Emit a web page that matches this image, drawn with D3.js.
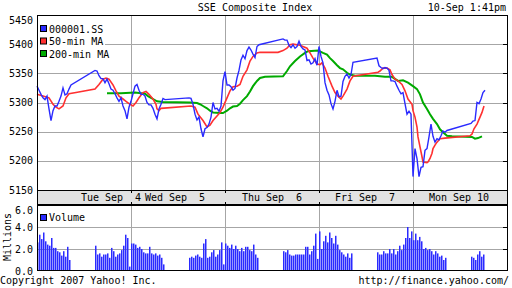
<!DOCTYPE html>
<html>
<head>
<meta charset="utf-8">
<script src="https://cdn.jsdelivr.net/npm/d3@7"></script>
<style>
  body { margin: 0; background: #fff; }
  svg { display: block; font-family: "DejaVu Sans Mono", monospace; font-size: 10px; }
  text { white-space: pre; }
</style>
</head>
<body>
<svg width="512" height="288"></svg>
<script>
// 5 sessions, 47 slots of ~5 min each; morning slots 0-17, afternoon slots from 29
const days = ["Tue Sep  4", "Wed Sep  5", "Thu Sep  6", "Fri Sep  7", "Mon Sep 10"];
const labelSlots = [37, 69, 117.5, 164, 211];
const slotsPerDay = 47;
const pmStart = 29;

const priceAM = [
  [5328, 5321, 5314, 5308, 5305, 5311, 5289, 5269, 5286, 5294, 5294, 5302, 5311, 5325, 5313, 5315, 5323, 5330],
  [5302, 5315, 5328, 5331, 5321, 5314, 5314, 5311, 5300, 5296, 5296, 5290, 5280, 5272, 5289, 5297, 5307, 5305],
  [5353, 5330, 5330, 5327, 5321, 5324, 5342, 5355, 5373, 5381, 5375, 5389, 5395, 5390, 5383, 5377, 5396, 5399],
  [5396, 5379, 5368, 5334, 5321, 5313, 5298, 5289, 5302, 5321, 5310, 5311, 5336, 5345, 5349, 5342, 5348, 5369],
  [5173, 5221, 5204, 5173, 5189, 5190, 5218, 5221, 5241, 5263, 5242, 5232, 5238, 5236, 5243, 5251, 5249, 5252]
];
const pricePM = [
  [5355, 5354, 5346, 5341, 5341, 5334, 5340, 5332, 5323, 5321, 5315, 5308, 5302, 5308, 5294, 5286, 5272, 5292],
  [5308, 5307, 5297, 5280, 5270, 5275, 5255, 5241, 5255, 5257, 5263, 5275, 5300, 5289, 5290, 5285, 5294, 5337],
  [5409, 5407, 5407, 5398, 5394, 5399, 5393, 5396, 5405, 5396, 5392, 5390, 5372, 5373, 5366, 5368, 5375, 5364],
  [5376, 5363, 5360, 5358, 5360, 5359, 5355, 5337, 5337, 5336, 5328, 5321, 5315, 5317, 5298, 5280, 5285, 5280],
  [5264, 5268, 5269, 5300, 5298, 5306, 5317, 5321]
];

// moving averages as [slot, value]
const ma50 = [
  [0, 5314], [3, 5311], [6, 5308], [8, 5297], [9.5, 5292], [11, 5289], [13, 5294], [14.5, 5308], [16, 5315],
  [19.5, 5317], [29, 5323], [31, 5331], [33, 5340], [34.5, 5342], [36, 5340], [38, 5330], [39.5, 5320],
  [41, 5311], [43, 5306], [44.5, 5302], [46, 5298], [48, 5294], [49.5, 5300], [51, 5308], [53, 5317],
  [54.5, 5319], [56, 5314], [58, 5306], [59.5, 5297], [60, 5289], [61, 5286], [62, 5290], [77, 5294],
  [79, 5292], [80.5, 5280], [83, 5269], [85, 5258], [86.5, 5261], [88, 5269], [90, 5277], [91.5, 5283],
  [93, 5292], [95, 5308], [96.5, 5320], [98, 5327], [100, 5328], [101.5, 5331], [103, 5345], [105, 5356],
  [106.5, 5371], [108, 5379], [110, 5385], [111.5, 5386], [120.5, 5386], [123, 5389], [125, 5393],
  [126.5, 5399], [128, 5400], [131.5, 5398], [135, 5393], [136.5, 5385], [138, 5376], [140, 5366],
  [141.5, 5365], [142.5, 5368], [144, 5359], [145.5, 5345], [147.5, 5328], [149, 5317], [150.5, 5311],
  [152, 5306], [153, 5311], [155, 5323], [156.5, 5337], [158, 5345], [170.5, 5352], [171.5, 5354],
  [173, 5359], [175, 5359], [176.5, 5356], [177.5, 5348], [179, 5340], [180.5, 5337], [182.5, 5331],
  [184, 5320], [185.5, 5306], [187.5, 5297], [188, 5286], [189, 5275], [190, 5258], [190.5, 5241],
  [191.5, 5224], [192.5, 5207], [193, 5198], [195, 5197], [195.5, 5198], [196.5, 5204], [197.5, 5213],
  [198, 5221], [199, 5227], [200, 5232], [201.5, 5238], [204, 5239], [216.5, 5243], [217.5, 5246],
  [218.5, 5255], [220, 5263], [221.5, 5275], [222.5, 5283], [223.5, 5294]
];
const ma200 = [
  [35, 5316], [42, 5316], [49, 5317], [52, 5316], [54, 5315], [55.5, 5311], [57, 5308], [58, 5306],
  [60, 5302], [63, 5301], [76.5, 5300], [80, 5299], [81.5, 5297], [83, 5294], [85, 5290], [86.5, 5286],
  [88, 5283], [91.5, 5282], [93, 5282], [95, 5286], [96.5, 5290], [98, 5293], [100, 5294], [101.5, 5298],
  [103, 5304], [105, 5311], [106.5, 5319], [108, 5328], [110, 5337], [111.5, 5342], [114, 5344],
  [123, 5345], [125, 5354], [126.5, 5362], [129, 5371], [131.5, 5379], [134, 5385], [135.5, 5388],
  [140.5, 5389], [143, 5385], [145, 5382], [146.5, 5376], [148, 5371], [150, 5364], [151.5, 5359],
  [153, 5357], [155, 5351], [156.5, 5348], [159, 5346], [169, 5346], [174, 5344], [177.5, 5344],
  [180.5, 5337], [183, 5338], [185.5, 5334], [188, 5328], [190, 5323], [191.5, 5314], [193, 5300],
  [195, 5289], [196.5, 5280], [198, 5272], [200, 5263], [201.5, 5254], [203, 5249], [205, 5243],
  [207.5, 5242], [217.5, 5241], [219, 5238], [220.5, 5239], [222.5, 5242]
];

// volume in millions
const volAM = [
  [2.6, 3.3, 2.9, 3.5, 2.7, 2.4, 2.3, 3.0, 2.1, 2.1, 1.8, 1.7, 1.4, 1.8, 1.3, 2.2, 1.0],
  [2.5, 2.5, 2.4, 2.1, 2.2, 2.0, 1.7, 1.6, 1.6, 2.2, 1.6, 1.5, 1.6, 1.4, 1.5, 1.2, 0.6],
  [2.5, 2.3, 2.1, 2.4, 2.0, 2.3, 2.0, 1.8, 2.1, 1.8, 2.2, 2.2, 1.9, 1.8, 2.4, 1.5, 1.2],
  [3.6, 2.0, 2.7, 3.2, 2.6, 3.5, 3.0, 2.5, 3.2, 2.4, 1.9, 1.7, 1.5, 1.3, 1.6, 1.2, 1.6],
  [2.8, 3.4, 2.8, 3.1, 2.7, 2.0, 2.1, 1.9, 2.0, 1.8, 1.5, 1.8, 1.6, 1.3, 1.4, 1.0, 1.2]
];
const volPM = [
  [2.3, 1.5, 1.6, 1.3, 1.5, 1.5, 1.6, 1.2, 2.1, 1.8, 1.3, 1.5, 1.6, 1.9, 2.3, 3.3, 3.0, 0.4],
  [1.2, 1.3, 1.2, 1.4, 1.5, 1.3, 1.2, 2.5, 2.9, 1.2, 1.3, 1.7, 1.9, 1.3, 1.5, 1.9, 2.6, 0.6],
  [1.8, 1.7, 1.9, 1.5, 1.4, 1.4, 1.5, 1.5, 1.5, 1.5, 1.5, 2.2, 2.2, 1.5, 1.8, 2.3, 3.4, 1.1],
  [1.7, 1.5, 1.5, 1.8, 1.6, 1.6, 2.0, 1.6, 2.0, 1.5, 1.8, 2.3, 1.9, 2.4, 3.0, 4.0, 3.0, 3.6],
  [1.3, 1.2, 1.0, 1.5, 1.8, 1.3, 1.5]
];

const priceTicks = [5150, 5200, 5250, 5300, 5350, 5400, 5450];
const volTicks = [0, 2, 4, 6];
const legendItems = ["000001.SS", "50-min MA", "200-min MA"];

const blueC = "#2a2aff", redC = "#ff3030", greenC = "#00aa00", gridC = "#a6a6a6";

const svg = d3.select("svg");

const x = d3.scaleLinear().domain([0, slotsPerDay * 5]).range([37, 507]);
const y = d3.scaleLinear().domain([5150, 5450]).range([190, 15]);
const yv = d3.scaleLinear().domain([0, 6]).range([271, 205]);

function crisp(v) { return Math.round(v) + 0.5; }

// flatten session arrays into [slot, value]
function flatten(am, pm) {
    const out = [];
    am.forEach((vals, d) => vals.forEach((v, i) => out.push([d * slotsPerDay + i, v])));
    pm.forEach((vals, d) => vals.forEach((v, i) => out.push([d * slotsPerDay + pmStart + i, v])));
    return out.sort((a, b) => a[0] - b[0]);
}
const price = flatten(priceAM, pricePM);
const volume = flatten(volAM, volPM);

// title
svg.append("text").attr("x", 255).attr("y", 11).attr("text-anchor", "middle").text("SSE Composite Index");
svg.append("text").attr("x", 506).attr("y", 11).attr("text-anchor", "end").text("10-Sep 1:41pm");

// grid main
const dayLines = d3.range(1, 5).map(d => d * slotsPerDay);
svg.append("g").selectAll("line").data(priceTicks.slice(1, -1)).enter().append("line")
    .attr("x1", 37).attr("x2", 507)
    .attr("y1", d => crisp(y(d))).attr("y2", d => crisp(y(d)))
    .attr("stroke", gridC);
svg.append("g").selectAll("line").data(dayLines).enter().append("line")
    .attr("x1", d => crisp(x(d))).attr("x2", d => crisp(x(d)))
    .attr("y1", 15).attr("y2", 190)
    .attr("stroke", gridC);

// grid volume
svg.append("g").selectAll("line").data(volTicks.slice(1, -1)).enter().append("line")
    .attr("x1", 37).attr("x2", 507)
    .attr("y1", d => crisp(yv(d))).attr("y2", d => crisp(yv(d)))
    .attr("stroke", gridC);
svg.append("g").selectAll("line").data(dayLines).enter().append("line")
    .attr("x1", d => crisp(x(d))).attr("x2", d => crisp(x(d)))
    .attr("y1", 205).attr("y2", 271)
    .attr("stroke", gridC);

// volume bars
svg.append("g").selectAll("rect").data(volume).enter().append("rect")
    .attr("x", d => x(d[0]))
    .attr("y", d => yv(d[1]))
    .attr("width", 1.5)
    .attr("height", d => yv(0) - yv(d[1]))
    .attr("fill", blueC);

// lines
const line = d3.line().x(d => x(d[0])).y(d => y(d[1]));
svg.append("path").datum(ma200).attr("d", line).attr("fill", "none").attr("stroke", greenC).attr("stroke-width", 2);
svg.append("path").datum(ma50).attr("d", line).attr("fill", "none").attr("stroke", redC).attr("stroke-width", 1.6);
svg.append("path").datum(price).attr("d", line).attr("fill", "none").attr("stroke", blueC).attr("stroke-width", 1.4);

// date band
svg.append("rect").attr("x", 37.5).attr("y", 190.5).attr("width", 470).attr("height", 14)
    .attr("fill", "#e2e2e2").attr("stroke", "#000");
svg.append("g").selectAll("line").data(dayLines).enter().append("line")
    .attr("x1", d => crisp(x(d))).attr("x2", d => crisp(x(d)))
    .attr("y1", 190).attr("y2", 193).attr("stroke", "#000");
svg.append("g").selectAll("line").data(dayLines).enter().append("line")
    .attr("x1", d => crisp(x(d))).attr("x2", d => crisp(x(d)))
    .attr("y1", 202).attr("y2", 205).attr("stroke", "#000");
svg.append("g").selectAll("text").data(days).enter().append("text")
    .attr("x", (d, i) => x(labelSlots[i]))
    .attr("y", 201)
    .attr("text-anchor", "middle")
    .text(d => d);

// frames
svg.append("rect").attr("x", 37.5).attr("y", 15.5).attr("width", 470).attr("height", 175)
    .attr("fill", "none").attr("stroke", "#000");
svg.append("rect").attr("x", 37.5).attr("y", 205.5).attr("width", 470).attr("height", 65)
    .attr("fill", "none").attr("stroke", "#000");

// right side ticks
svg.append("g").selectAll("line").data(priceTicks.slice(1, -1)).enter().append("line")
    .attr("x1", 503).attr("x2", 507)
    .attr("y1", d => crisp(y(d))).attr("y2", d => crisp(y(d))).attr("stroke", "#000");
svg.append("g").selectAll("line").data(volTicks.slice(1, -1)).enter().append("line")
    .attr("x1", 503).attr("x2", 507)
    .attr("y1", d => crisp(yv(d))).attr("y2", d => crisp(yv(d))).attr("stroke", "#000");

// axis labels
svg.append("g").selectAll("text").data(priceTicks).enter().append("text")
    .attr("x", 33)
    .attr("y", d => Math.max(y(d), 20) + 3.5)
    .attr("text-anchor", "end")
    .text(d => d);
svg.append("g").selectAll("text").data(volTicks).enter().append("text")
    .attr("x", 33)
    .attr("y", d => Math.max(yv(d), 210) + 3.5)
    .attr("text-anchor", "end")
    .text(d => d.toFixed(1));
svg.append("text").attr("transform", "translate(11,237) rotate(-90)")
    .attr("text-anchor", "middle").text("Millions");

// legend
svg.append("rect").attr("x", 38).attr("y", 17).attr("width", 67).attr("height", 43).attr("fill", "#fff");
const colors = [blueC, redC, greenC];
const leg = svg.append("g").selectAll("g").data(legendItems).enter().append("g");
leg.append("rect")
    .attr("x", 40.5).attr("y", (d, i) => 25.5 + i * 12.5)
    .attr("width", 6).attr("height", 6)
    .attr("fill", (d, i) => colors[i]).attr("stroke", "#000");
leg.append("text")
    .attr("x", 49).attr("y", (d, i) => 32.5 + i * 12.5)
    .text(d => d);

svg.append("rect").attr("x", 40.5).attr("y", 214.5).attr("width", 6).attr("height", 6)
    .attr("fill", blueC).attr("stroke", "#000");
svg.append("text").attr("x", 49).attr("y", 221).text("Volume");

// footer
svg.append("text").attr("x", 0).attr("y", 284).text("Copyright 2007 Yahoo! Inc.");
svg.append("text").attr("x", 509).attr("y", 284).attr("text-anchor", "end").text("http://finance.yahoo.com/");
</script>
</body>
</html>
